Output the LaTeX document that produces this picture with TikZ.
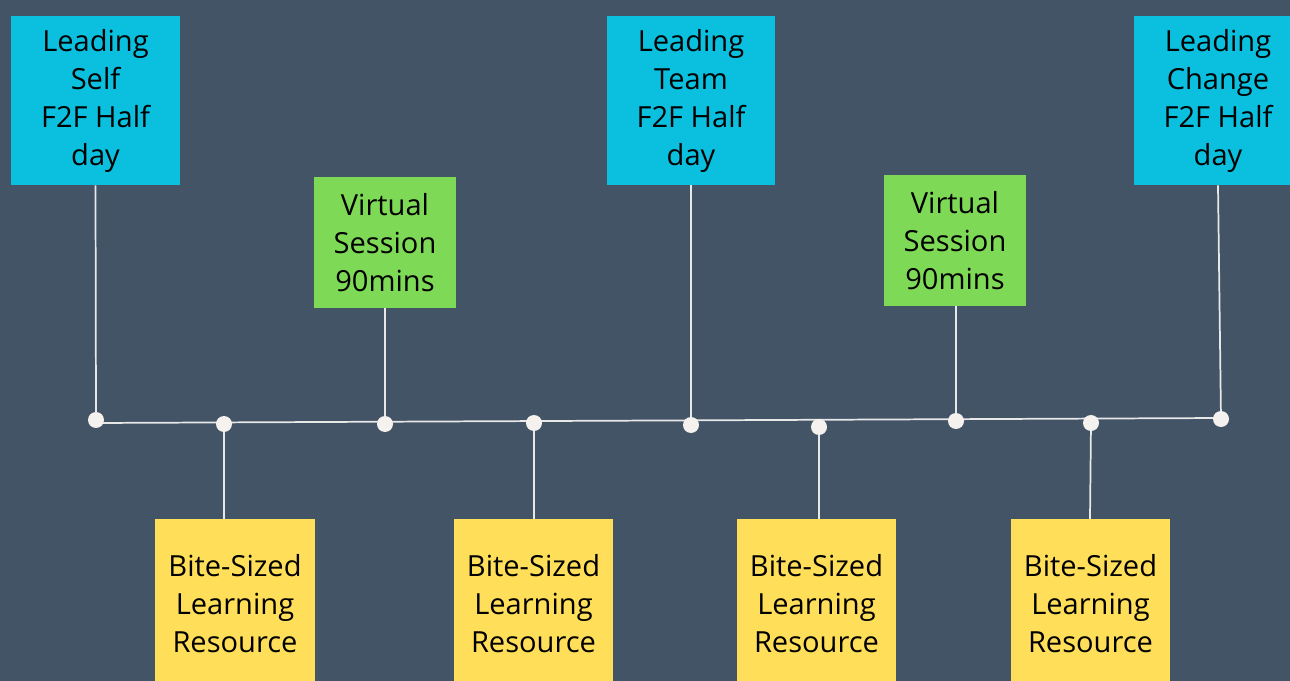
\documentclass[tikz,border=0pt]{standalone}
\usepackage{fontspec}
\setmainfont{Open Sans}
\definecolor{bgc}{HTML}{425466}
\definecolor{cyanbox}{HTML}{0BC0DF}
\definecolor{greenbox}{HTML}{7ED957}
\definecolor{yellowbox}{HTML}{FFDE59}
\definecolor{dotc}{HTML}{F4F1EE}
\definecolor{linec}{HTML}{E8E8E8}
\begin{document}
\begin{tikzpicture}[x=0.75pt,y=-0.75pt,
  box/.style={inner sep=0pt,align=center,text=black,font=\fontsize{21.8}{28.5}\selectfont},
  dot/.style={circle,fill=dotc,inner sep=0pt,minimum size=12pt},
  conn/.style={draw=linec,line width=1.3pt}]
\fill[bgc] (0,0) rectangle (1290,681);
\useasboundingbox (0,0) rectangle (1290,681);
% boxes
\node[box,fill=cyanbox,minimum width=169*0.75pt,minimum height=169*0.75pt] (b1) at (95.5,100.5) {Leading\\Self\\F2F Half\\day};
\node[box,fill=cyanbox,minimum width=168*0.75pt,minimum height=169*0.75pt] (b2) at (691,100.5) {Leading\\Team\\F2F Half\\day};
\node[box,fill=cyanbox,minimum width=168*0.75pt,minimum height=169*0.75pt] (b3) at (1218,100.5) {Leading\\Change\\F2F Half\\day};
\node[box,fill=greenbox,minimum width=142*0.75pt,minimum height=131*0.75pt] (g1) at (385,242.5) {Virtual\\Session\\90mins};
\node[box,fill=greenbox,minimum width=142*0.75pt,minimum height=131*0.75pt] (g2) at (955,240.5) {Virtual\\Session\\90mins};
\node[box,fill=yellowbox,minimum width=160*0.75pt,minimum height=170*0.75pt] (y1) at (235,604) {Bite-Sized\\Learning\\Resource};
\node[box,fill=yellowbox,minimum width=159*0.75pt,minimum height=170*0.75pt] (y2) at (533.5,604) {Bite-Sized\\Learning\\Resource};
\node[box,fill=yellowbox,minimum width=159*0.75pt,minimum height=170*0.75pt] (y3) at (816.5,604) {Bite-Sized\\Learning\\Resource};
\node[box,fill=yellowbox,minimum width=159*0.75pt,minimum height=170*0.75pt] (y4) at (1090.5,604) {Bite-Sized\\Learning\\Resource};
% dot positions
\coordinate (d1) at (96,420);
\coordinate (d2) at (224,424);
\coordinate (d3) at (385,424);
\coordinate (d4) at (534,423);
\coordinate (d5) at (691,425);
\coordinate (d6) at (819,427);
\coordinate (d7) at (956,421);
\coordinate (d8) at (1091,423);
\coordinate (d9) at (1221,419);
% timeline
\draw[conn] (96,423) -- (1221,418);
% connectors
\draw[conn] (b1.south) -- (d1);
\draw[conn] (g1.south) -- (d3);
\draw[conn] (b2.south) -- (d5);
\draw[conn] (g2.south -| d7) -- (d7);
\draw[conn] (b3.south) -- (d9);
\draw[conn] (d2) -- (y1.north -| d2);
\draw[conn] (d4) -- (y2.north -| d4);
\draw[conn] (d6) -- (y3.north -| d6);
\draw[conn] (d8) -- (1090,519);
% dots
\foreach \i in {1,...,9} \node[dot] (n\i) at (d\i) {};
\end{tikzpicture}
\end{document}
